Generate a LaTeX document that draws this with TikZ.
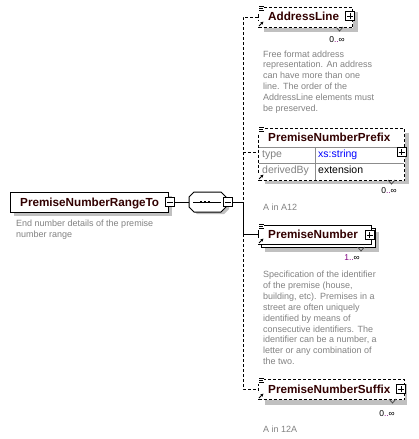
\documentclass[tikz,border=0pt]{standalone}
\usepackage{fontspec}
\setmainfont{Liberation Sans}
\usetikzlibrary{arrows.meta}
\definecolor{elname}{RGB}{50,0,0}
\definecolor{descgray}{RGB}{130,130,130}
\definecolor{shadowgray}{RGB}{192,192,192}
\definecolor{occpurple}{RGB}{128,0,128}
\definecolor{typeblue}{RGB}{0,0,255}
\definecolor{tablegray}{RGB}{140,140,140}
\newcommand{\plusbtn}[3]{%
  \node[btn] (#1) at (#2,#3) {};
  \draw[line width=1pt] ([xshift=-3pt]#1.center) -- ([xshift=3pt]#1.center)
        ([yshift=-3pt]#1.center) -- ([yshift=3pt]#1.center);}
\newcommand{\minusbtn}[3]{%
  \node[btn] (#1) at (#2,#3) {};
  \draw[line width=1pt] ([xshift=-3pt]#1.center) -- ([xshift=3pt]#1.center);}
\newcommand{\elicons}[3]{% left, top, bottom
  \fill[white] (#1,#2-1.5) rectangle (#1+6,#2+4.5);
  \draw[line width=0.9pt] (#1+1,#2-1) -- (#1+5.5,#2-1) (#1+1,#2+1) -- (#1+5,#2+1) (#1+1,#2+3) -- (#1+5.5,#2+3);
  \fill[white] (#1,#3-6) rectangle (#1+6,#3);
  \draw[line width=1pt,-{Latex[length=3pt,width=3.5pt]}] (#1+1,#3-1) -- (#1+5.5,#3-5.5);}
\newcommand{\vmark}[2]{%
  \draw[line width=0.8pt,black!70] (#1-3.5,#2) -- (#1,#2+4) -- (#1+3.5,#2);}
\begin{document}
\begin{tikzpicture}[x=1pt,y=-1pt,
  shadowbox/.style={fill=shadowgray, draw=none},
  solidbox/.style={draw=black, fill=white, line width=1pt, inner sep=0pt, anchor=north west},
  dashbox/.style={draw=black, fill=white, line width=1pt, dash pattern=on 3pt off 2pt, inner sep=0pt, anchor=north west},
  nametext/.style={font=\fontsize{11.7}{14}\selectfont\bfseries, text=elname, inner sep=0pt, anchor=base west},
  desctext/.style={font=\fontsize{9}{11}\selectfont, text=descgray, inner sep=0pt, anchor=base west},
  occtext/.style={font=\fontsize{8.5}{10}\selectfont, inner sep=0pt, anchor=base east},
  tabletext/.style={font=\fontsize{10.5}{12}\selectfont, inner sep=0pt, anchor=base west},
  btn/.style={draw=black, fill=white, line width=1pt, minimum size=9pt, inner sep=0pt},
  link/.style={line width=1pt},
  dlink/.style={line width=1pt, dash pattern=on 3pt off 2pt},
]
\useasboundingbox (0,0) rectangle (419,439);
\fill[white] (0,0) rectangle (419,439);

% ---------- root element ----------
\fill[shadowgray] (14,196) rectangle (172,216);
\node[solidbox, minimum width=158pt, minimum height=20pt] (root) at (10,192) {};
\node[nametext] (rootname) at (20,206.5) {PremiseNumberRangeTo};
\minusbtn{rootbtn}{170}{202}
\node[desctext] (rootd1) at (16,226.5) {End number details of the premise};
\node[desctext] (rootd2) at (16,237.5) {number range};

% ---------- sequence compositor ----------
\fill[shadowgray] (197,195) -- (224,195) -- (229,200) -- (229,209) -- (224,214) -- (197,214) -- (192,209) -- (192,200) -- cycle;
\draw[line width=1pt, fill=white] (194,192) -- (221,192) -- (226,197) -- (226,207) -- (221,212) -- (194,212) -- (189,207) -- (189,197) -- cycle;
\node[inner sep=0pt, minimum width=37pt, minimum height=20pt] (seq) at (207.5,202) {};
\draw[line width=1pt] (193,202) -- (221,202);
\foreach \dx in {201,205,209}
  \fill (\dx-1.3,200.7) rectangle (\dx+1.3,203.3);
\minusbtn{seqbtn}{227.5}{202}

% ---------- spine coordinates ----------
\coordinate (spTop) at (243,17);
\coordinate (spPre) at (243,152);
\coordinate (spMid) at (243,202);
\coordinate (spNum) at (243,234);
\coordinate (spBot) at (243,389);

% ---------- AddressLine ----------
\fill[shadowgray] (264,12) rectangle (358,32);
\node[dashbox, minimum width=94pt, minimum height=20pt] (addr) at (258,7) {};
\elicons{258}{7}{27}
\node[nametext] (addrname) at (268,20.5) {AddressLine};
\plusbtn{addrbtn}{350}{16}
\vmark{339.5}{27}
\node[occtext] (addrocc) at (345,42) {0\textcolor{occpurple}{..}∞};
\foreach \t [count=\i from 0] in {Free format address,representation. An address,can have more than one,line. The order of the,AddressLine elements must,be preserved.}
  \node[desctext] (addrd\i) at (263,57+10.9*\i) {\t};

% ---------- PremiseNumberPrefix ----------
\fill[shadowgray] (265,133) rectangle (409,184);
\node[dashbox, minimum width=146pt, minimum height=52pt] (prefix) at (258,128) {};
\draw[tablegray, line width=1pt] (258.5,147) -- (403.5,147) (258.5,163) -- (403.5,163) (315,147) -- (315,179.5);
\elicons{258}{128}{180}
\node[nametext] (prefixname) at (268,141) {PremiseNumberPrefix};
\node[tabletext, text=descgray] (prefixk1) at (262,157.5) {type};
\node[tabletext, text=typeblue] (prefixv1) at (318,157.5) {xs:string};
\node[tabletext, text=descgray] (prefixk2) at (262,173.5) {derivedBy};
\node[tabletext, text=black] (prefixv2) at (318,173.5) {extension};
\plusbtn{prefixbtn}{401.5}{152}
\vmark{391.5}{180}
\node[occtext] (prefixocc) at (397,193) {0\textcolor{occpurple}{..}∞};
\node[desctext] (prefixd) at (263,210) {A in A12};

% ---------- PremiseNumber ----------
\fill[shadowgray] (265,232) rectangle (379,252);
\node[solidbox, minimum width=114pt, minimum height=19pt] (numback) at (261,228) {};
\node[solidbox, minimum width=113pt, minimum height=19pt] (num) at (258,225) {};
\elicons{258}{225}{244}
\node[nametext] (numname) at (268,238) {PremiseNumber};
\plusbtn{numbtn}{369.5}{235}
\vmark{361}{247}
\node[occtext] (numocc) at (360,260) {\textcolor{occpurple}{1..}∞};
\foreach \t [count=\i from 0] in {Specification of the identifier,{of the premise (house,},{building, etc). Premises in a},street are often uniquely,identified by means of,consecutive identifiers. The,{identifier can be a number, a},letter or any combination of,the two.}
  \node[desctext] (numd\i) at (263,277.5+10.9*\i) {\t};

% ---------- PremiseNumberSuffix ----------
\fill[shadowgray] (265,384) rectangle (407,405);
\node[dashbox, minimum width=146pt, minimum height=20pt] (suffix) at (258,379) {};
\elicons{258}{379}{399}
\node[nametext] (suffixname) at (268,393.5) {PremiseNumberSuffix};
\plusbtn{suffixbtn}{401}{389}
\vmark{392.5}{399}
\node[occtext] (suffixocc) at (395,416) {0\textcolor{occpurple}{..}∞};
\node[desctext] (suffixd) at (263,432) {A in 12A};

% ---------- connectors ----------
\draw[link] (rootbtn.east) -- (seq.west);
\draw[link] (seqbtn.east) -- (spMid) -- (spNum) -- (num.west |- spNum);
\draw[dlink] (addr.west |- spTop) -- (spTop) -- (spMid);
\draw[dlink] (spPre) -- (prefix.west |- spPre);
\draw[dlink] (spNum) -- (spBot) -- (suffix.west |- spBot);
\end{tikzpicture}
\end{document}
